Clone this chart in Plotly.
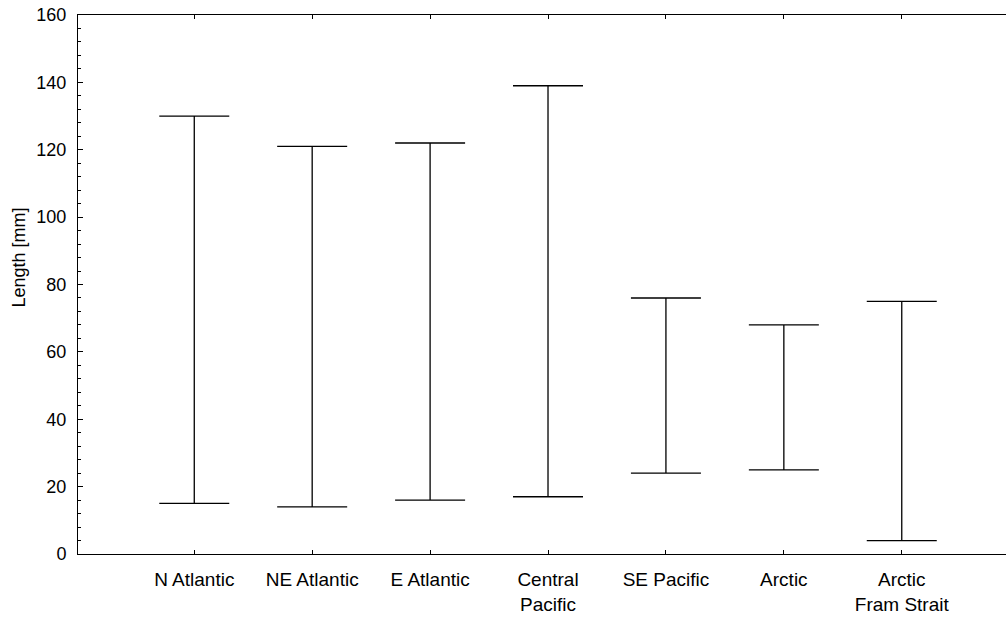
import plotly.graph_objects as go

categories = ["N Atlantic", "NE Atlantic", "E Atlantic", "Central<br>Pacific",
              "SE Pacific", "Arctic", "Arctic<br>Fram Strait"]
min_len = [15, 14, 16, 17, 24, 25, 4]
max_len = [130, 121, 122, 139, 76, 68, 75]
y_ticks = [0, 20, 40, 60, 80, 100, 120, 140, 160]

mid = [(a + b) / 2 for a, b in zip(min_len, max_len)]
half = [(b - a) / 2 for a, b in zip(min_len, max_len)]

fig = go.Figure()
fig.add_trace(go.Scatter(
    x=categories, y=mid, mode="markers",
    marker=dict(size=1, color="rgba(0,0,0,0)"),
    error_y=dict(type="data", array=half, symmetric=True,
                 color="black", thickness=1.3, width=35),
    showlegend=False, hoverinfo="skip",
))

font = dict(family="Liberation Sans, Arial, sans-serif", size=18, color="black")
fig.update_layout(
    width=1007, height=623,
    margin=dict(l=78, r=1, t=15, b=69),
    paper_bgcolor="white", plot_bgcolor="white",
    font=font,
    xaxis=dict(
        type="category", range=[-0.986, 6.884], automargin=False,
        showline=True, linecolor="black", linewidth=1, mirror="ticks",
        ticks="inside", ticklen=4, tickcolor="black",
        showgrid=False, zeroline=False, ticklabelstandoff=8,
        tickfont=dict(size=19),
    ),
    yaxis=dict(
        range=[0, 160], tickvals=y_ticks, automargin=False,
        showline=True, linecolor="black", linewidth=1, mirror=False,
        ticks="inside", ticklen=5, tickcolor="black",
        minor=dict(dtick=4, ticks="inside", ticklen=3, tickcolor="black"),
        showgrid=False, zeroline=False, ticklabelstandoff=7,
        tickfont=dict(size=18),
    ),
    annotations=[dict(
        text="Length [mm]", textangle=-90, showarrow=False,
        xref="paper", yref="paper", x=0, y=0.549,
        xanchor="center", yanchor="middle", xshift=-58.5,
        font=dict(size=18),
    )],
)
fig.write_html(
    "out.html",
    config={"displayModeBar": False, "staticPlot": True},
    post_script="document.body.style.margin='0';document.body.style.overflow='hidden';",
)
